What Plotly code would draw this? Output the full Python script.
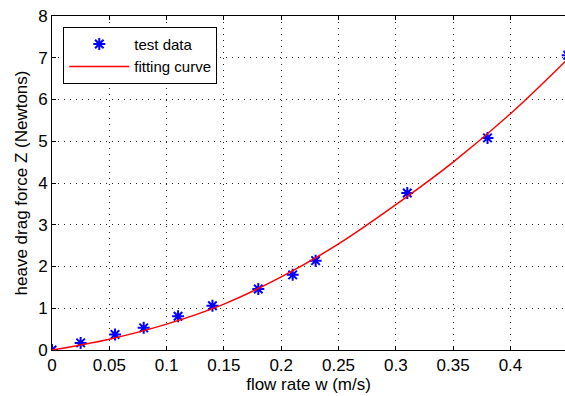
import plotly.graph_objects as go

# Test data
test_w = [0.0, 0.025, 0.055, 0.08, 0.11, 0.14, 0.18, 0.21, 0.23, 0.31, 0.38, 0.45]
test_z = [0.0, 0.17, 0.37, 0.53, 0.81, 1.06, 1.46, 1.80, 2.14, 3.76, 5.08, 7.06]

# Fitting curve samples
fit_w = [0.0, 0.05, 0.10, 0.15, 0.20, 0.25, 0.30, 0.35, 0.40, 0.45]
fit_z = [0.0, 0.26, 0.62, 1.10, 1.75, 2.54, 3.48, 4.50, 5.66, 6.97]

x_ticks = [0, 0.05, 0.1, 0.15, 0.2, 0.25, 0.3, 0.35, 0.4]
x_tick_labels = ["0", "0.05", "0.1", "0.15", "0.2", "0.25", "0.3", "0.35", "0.4"]
y_ticks = [0, 1, 2, 3, 4, 5, 6, 7, 8]

FONT = "Liberation Sans, Arial, Helvetica, sans-serif"
FS = 17

fig = go.Figure()
fig.add_trace(go.Scatter(
    x=test_w, y=test_z, mode="markers", name="test data",
    marker=dict(symbol="asterisk-open", size=10, color="blue",
                line=dict(color="blue", width=2)),
))
fig.add_trace(go.Scatter(
    x=fit_w, y=fit_z, mode="lines", name="fitting curve",
    line=dict(color="red", width=1.5, shape="spline"),
))

axis_common = dict(
    showline=True, linecolor="black", linewidth=1,
    ticks="inside", ticklen=4, tickcolor="black",
    showgrid=True, gridcolor="#222222", gridwidth=1, griddash="1px,5px",
    zeroline=False, automargin=False,
    tickfont=dict(family=FONT, size=FS, color="black"),
)

fig.update_xaxes(
    range=[0, 0.4476], tickvals=x_ticks, ticktext=x_tick_labels,
    mirror="ticks",
    title=dict(text="flow rate w (m/s)", font=dict(family=FONT, size=FS, color="black"), standoff=2),
    **axis_common,
)
fig.update_yaxes(
    range=[0, 8], tickvals=y_ticks,
    title=dict(text="heave drag force Z (Newtons)", font=dict(family=FONT, size=FS, color="black"), standoff=6),
    **axis_common,
)

fig.update_layout(
    width=565, height=396,
    margin=dict(l=52, r=0, t=16, b=46, autoexpand=False),
    paper_bgcolor="white", plot_bgcolor="white",
    font=dict(family=FONT, size=FS, color="black"),
    showlegend=True,
    legend=dict(
        x=0.022, y=0.968, xanchor="left", yanchor="top",
        bgcolor="white", bordercolor="black", borderwidth=1,
        font=dict(family=FONT, size=15, color="black"),
        tracegroupgap=0, itemwidth=60,
    ),
)

fig.write_html(
    "out.html",
    config={"displayModeBar": False},
    post_script="document.body.style.margin='0';document.body.style.overflow='hidden';",
)
